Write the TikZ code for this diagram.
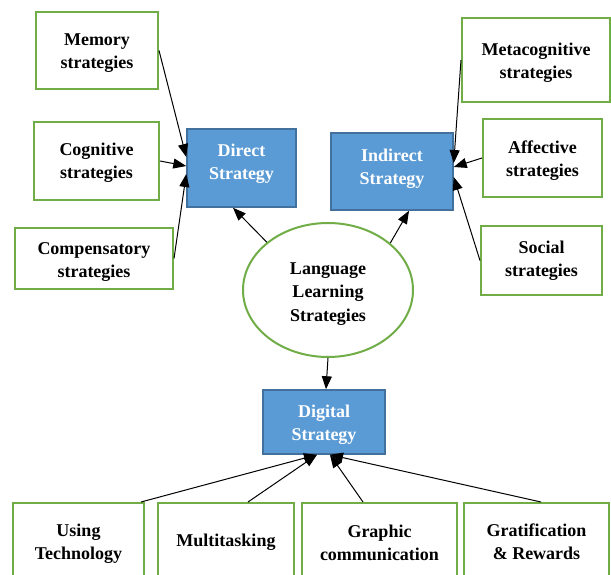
\documentclass[tikz,border=0pt]{standalone}
\usepackage{fontspec}
\setmainfont{Liberation Serif}
\usetikzlibrary{arrows.meta,shapes.geometric}
\definecolor{bordergreen}{RGB}{112,173,71}
\definecolor{boxblue}{RGB}{91,155,213}
\definecolor{blueedge}{RGB}{65,113,156}
\tikzset{
  greenbox/.style={draw=bordergreen, line width=2pt, fill=white, inner sep=0pt},
  bluebox/.style={draw=blueedge, line width=1.5pt, fill=boxblue, inner sep=0pt},
  darktext/.style={inner sep=0pt, align=center, font=\fontsize{18}{23}\selectfont\bfseries},
  whitetext/.style={darktext, text=white},
  conn/.style={draw=black, line width=1pt, -{Triangle[length=13pt,width=10pt]}}
}
\begin{document}
\begin{tikzpicture}[x=1pt,y=-1pt]
\useasboundingbox (0,0) rectangle (611,575);
\clip (0,0) rectangle (611,575);
\fill[white] (0,0) rectangle (611,575);

% left group
\node[greenbox, minimum width=122pt, minimum height=77pt] (mem) at (97,50.5) {};
\node[darktext] (memt) at ([yshift=-3pt]mem.center) {Memory\\strategies};
\node[greenbox, minimum width=125pt, minimum height=78pt] (cog) at (96.5,161) {};
\node[darktext] (cogt) at ([yshift=-2pt]cog.center) {Cognitive\\strategies};
\node[greenbox, minimum width=158pt, minimum height=61pt] (comp) at (94,258.5) {};
\node[darktext] (compt) at ([yshift=-3.5pt]comp.center) {Compensatory\\strategies};
\node[bluebox, minimum width=109pt, minimum height=78pt] (direct) at (241.5,168) {};
\node[whitetext] (directt) at ([yshift=4pt]direct.center) {Direct\\Strategy};

% right group
\node[greenbox, minimum width=148pt, minimum height=84pt] (meta) at (536,60) {};
\node[darktext] (metat) at ([yshift=-2.5pt]meta.center) {Metacognitive\\strategies};
\node[greenbox, minimum width=119pt, minimum height=78pt] (aff) at (542.5,158) {};
\node[darktext] (afft) at ([yshift=-3pt]aff.center) {Affective\\strategies};
\node[greenbox, minimum width=121pt, minimum height=69pt] (soc) at (541.5,260.5) {};
\node[darktext] (soct) at (soc.center) {Social\\strategies};
\node[bluebox, minimum width=122pt, minimum height=77pt] (indirect) at (392,171.5) {};
\node[whitetext] (indirectt) at ([yshift=2.5pt]indirect.center) {Indirect\\Strategy};

% centre
\node[ellipse, draw=bordergreen, line width=2pt, fill=white, inner sep=0pt,
  minimum width=170pt, minimum height=134pt] (llg) at (328,290) {};
\node[darktext, font=\fontsize{18}{23.5}\selectfont\bfseries] (llgt) at ([yshift=-4pt]llg.center) {Language\\Learning\\Strategies};

% bottom group
\node[bluebox, minimum width=122pt, minimum height=64pt] (digital) at (324,422) {};
\node[whitetext] (digitalt) at ([yshift=-2.5pt]digital.center) {Digital\\Strategy};
\node[greenbox, minimum width=131pt, minimum height=76pt] (using) at (78.5,541) {};
\node[darktext] (usingt) at ([yshift=-3pt]using.center) {Using\\Technology};
\node[greenbox, minimum width=136pt, minimum height=76pt] (multi) at (226,541) {};
\node[darktext] (multit) at ([yshift=-1pt]multi.center) {Multitasking};
\node[greenbox, minimum width=155pt, minimum height=76pt] (graph) at (379.5,541) {};
\node[darktext] (grapht) at ([yshift=-2pt]graph.center) {Graphic\\communication};
\node[greenbox, minimum width=145pt, minimum height=76pt] (grat) at (536.5,541) {};
\node[darktext] (gratt) at ([yshift=-0.5pt]grat.center) {Gratification\\\& Rewards};

% connectors to Direct
\draw[conn] (mem.east) -- ([yshift=11pt]direct.west);
\draw[conn] (cog.east) -- ([yshift=2pt]direct.west);
\draw[conn] (comp.east) -- ([yshift=-6pt]direct.west);

% connectors to Indirect
\draw[conn] (meta.west) -- ([yshift=8.5pt]indirect.east);
\draw[conn] (aff.west) -- ([yshift=4.5pt]indirect.east);
\draw[conn] (soc.west) -- ([yshift=-5.5pt]indirect.east);

% from centre
\draw[conn] (llg.142) -- ([xshift=-8.5pt]direct.south);
\draw[conn] (llg.37.6) -- ([xshift=17pt]indirect.south);
\draw[conn] (llg.south) -- ([xshift=2pt]digital.north);

% to Digital
\draw[conn] ([xshift=-4pt]using.north east) -- ([xshift=-7pt]digital.south);
\draw[conn] ([xshift=22pt]multi.north) -- ([xshift=-7pt]digital.south);
\draw[conn] ([xshift=-16.5pt]graph.north) -- ([xshift=6pt]digital.south);
\draw[conn] ([xshift=4.5pt]grat.north) -- ([xshift=6pt]digital.south);
\end{tikzpicture}
\end{document}
